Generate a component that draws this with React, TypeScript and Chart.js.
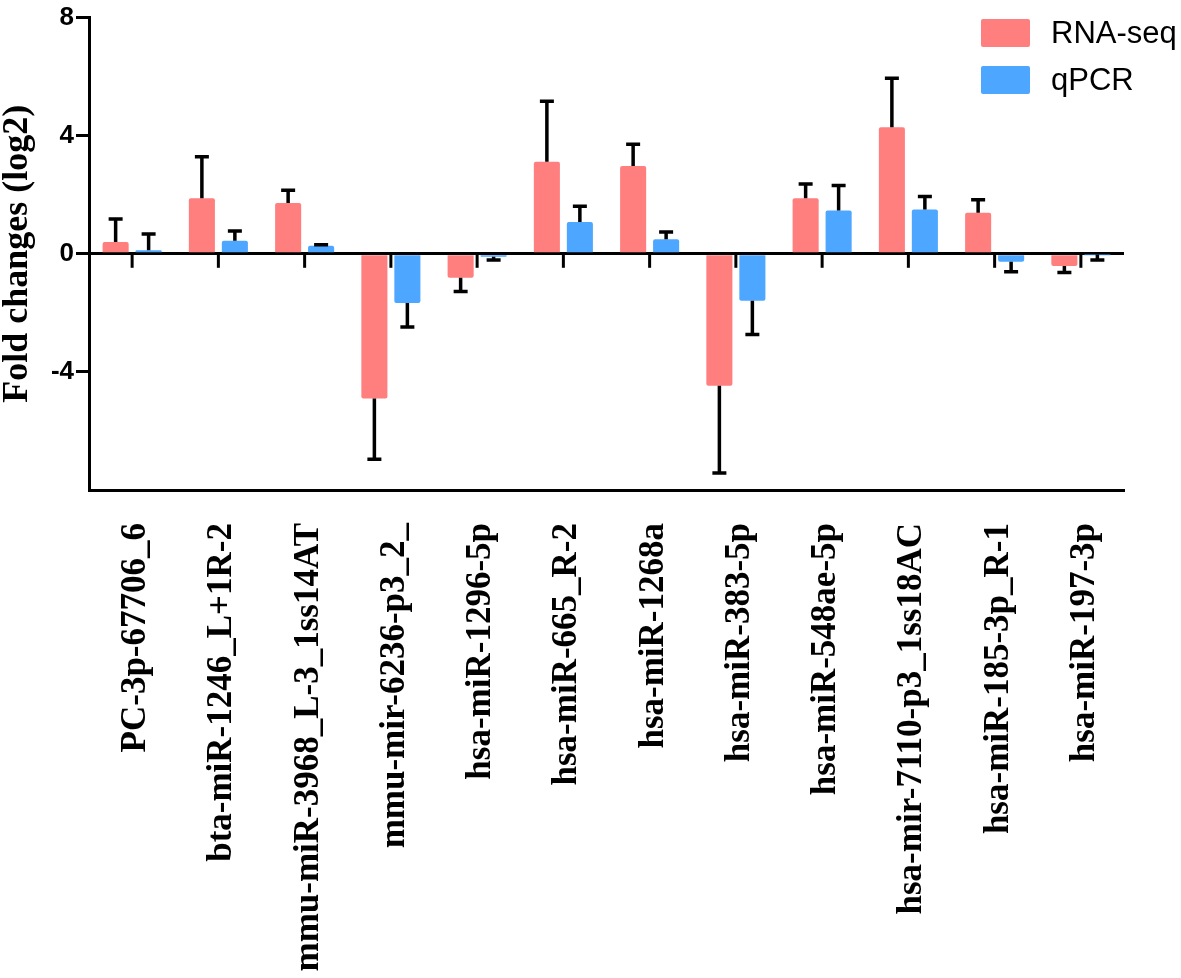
import React, { useEffect, useRef } from 'react';
import { Chart, registerables } from 'chart.js';

Chart.register(...registerables);

const categories = [
  'PC-3p-67706_6',
  'bta-miR-1246_L+1R-2',
  'mmu-miR-3968_L-3_1ss14AT',
  'mmu-mir-6236-p3_2_',
  'hsa-miR-1296-5p',
  'hsa-miR-665_R-2',
  'hsa-miR-1268a',
  'hsa-miR-383-5p',
  'hsa-miR-548ae-5p',
  'hsa-mir-7110-p3_1ss18AC',
  'hsa-miR-185-3p_R-1',
  'hsa-miR-197-3p',
];

const rnaSeq = [0.4, 1.88, 1.72, -4.9, -0.81, 3.12, 2.97, -4.47, 1.88, 4.29, 1.39, -0.41];
const rnaSeqErr = [0.78, 1.41, 0.43, 2.06, 0.47, 2.05, 0.74, 2.95, 0.48, 1.66, 0.44, 0.22];
const qpcr = [0.12, 0.44, 0.27, -1.67, -0.1, 1.08, 0.49, -1.59, 1.47, 1.5, -0.27, -0.02];
const qpcrErr = [0.55, 0.33, 0.04, 0.81, 0.11, 0.53, 0.25, 1.14, 0.84, 0.44, 0.34, 0.19];

const seriesNames = ['RNA-seq', 'qPCR'];
const seriesColors = ['#FF7F7F', '#4DA6FF'];
const yMin = -8;
const yMax = 8;
const yStep = 4;
const yTitle = 'Fold changes (log2)';

const errorBarPlugin = {
  id: 'errorBars',
  afterDatasetsDraw(chart: any) {
    const ctx = chart.ctx;
    const yScale = chart.scales.y;
    ctx.save();
    ctx.strokeStyle = '#000';
    ctx.lineWidth = 3.5;
    ctx.lineCap = 'butt';
    chart.data.datasets.forEach((ds: any, di: number) => {
      const meta = chart.getDatasetMeta(di);
      meta.data.forEach((el: any, i: number) => {
        const v = ds.data[i];
        const e = ds.errors[i];
        const sign = v < 0 ? -1 : 1;
        const y0 = yScale.getPixelForValue(v);
        const y1 = yScale.getPixelForValue(v + sign * e);
        ctx.beginPath();
        ctx.moveTo(el.x, y0);
        ctx.lineTo(el.x, y1);
        ctx.moveTo(el.x - 7, y1);
        ctx.lineTo(el.x + 7, y1);
        ctx.stroke();
      });
    });
    ctx.restore();
  },
};

const zeroTickPlugin = {
  id: 'zeroTicks',
  afterDraw(chart: any) {
    const ctx = chart.ctx;
    const xScale = chart.scales.x;
    const y0 = chart.scales.y.getPixelForValue(0);
    ctx.save();
    ctx.strokeStyle = '#000';
    ctx.lineWidth = 3;
    categories.forEach((_, i) => {
      const x = xScale.getPixelForValue(i);
      ctx.beginPath();
      ctx.moveTo(x, y0);
      ctx.lineTo(x, y0 + 14);
      ctx.stroke();
    });
    ctx.restore();
  },
};

const legendPlugin = {
  id: 'customLegend',
  afterDraw(chart: any) {
    const ctx = chart.ctx;
    ctx.save();
    ctx.font = '31px "Liberation Sans", Arial, sans-serif';
    ctx.textBaseline = 'middle';
    ctx.textAlign = 'left';
    chart.data.datasets.forEach((ds: any, i: number) => {
      const bx = 981;
      const by = 19 + i * 47;
      ctx.fillStyle = ds.backgroundColor;
      ctx.beginPath();
      (ctx as any).roundRect ? (ctx as any).roundRect(bx, by, 49, 28, 2) : ctx.rect(bx, by, 49, 28);
      ctx.fill();
      ctx.fillStyle = '#000';
      ctx.fillText(ds.label, 1051, by + 15);
    });
    ctx.restore();
  },
};

export default function App() {
  const canvasRef = useRef<HTMLCanvasElement | null>(null);

  useEffect(() => {
    if (!canvasRef.current) return;
    const chart = new Chart(canvasRef.current, {
      type: 'bar',
      data: {
        labels: categories,
        datasets: [
          {
            label: seriesNames[0],
            data: rnaSeq,
            errors: rnaSeqErr,
            backgroundColor: seriesColors[0],
            borderRadius: 2,
            borderSkipped: 'start',
            categoryPercentage: 0.765,
            barPercentage: 0.79,
          } as any,
          {
            label: seriesNames[1],
            data: qpcr,
            errors: qpcrErr,
            backgroundColor: seriesColors[1],
            borderRadius: 2,
            borderSkipped: 'start',
            categoryPercentage: 0.765,
            barPercentage: 0.79,
          } as any,
        ],
      },
      options: {
        responsive: false,
        animation: false,
        devicePixelRatio: 1,
        layout: { padding: { top: 14, right: 57, left: 0, bottom: 0 } },
        plugins: {
          legend: { display: false },
          tooltip: { enabled: false },
        },
        scales: {
          x: {
            grid: { display: false, drawTicks: false },
            border: { display: true, width: 3, color: '#000' },
            ticks: {
              autoSkip: false,
              minRotation: 90,
              maxRotation: 90,
              padding: 33,
              labelOffset: 4,
              color: '#000',
              font: { family: '"Liberation Serif", "Times New Roman", serif', size: 35, weight: 'bold' },
            },
            afterFit: (s: any) => {
              s.height = 488;
            },
          },
          y: {
            min: yMin,
            max: yMax,
            z: 1,
            ticks: {
              stepSize: yStep,
              padding: 2,
              color: '#000',
              font: { family: '"Liberation Sans", Arial, sans-serif', size: 26, weight: 'bold' },
              callback: (v: any) => (Number(v) === yMin ? '' : String(v)),
            },
            grid: {
              drawOnChartArea: true,
              drawTicks: true,
              tickLength: 13,
              lineWidth: 3,
              tickWidth: 3,
              color: (c: any) => (c.tick && c.tick.value === 0 ? '#000' : 'rgba(0,0,0,0)'),
              tickColor: (c: any) => (c.tick && c.tick.value === yMin ? 'rgba(0,0,0,0)' : '#000'),
            },
            border: { display: true, width: 3, color: '#000' },
            title: {
              display: true,
              text: yTitle,
              color: '#000',
              padding: { top: 0, bottom: 0 },
              font: { family: '"Liberation Serif", "Times New Roman", serif', size: 36, weight: 'bold', lineHeight: 1 },
            },
            afterFit: (s: any) => {
              s.width = 89;
            },
          },
        },
      } as any,
      plugins: [errorBarPlugin, zeroTickPlugin, legendPlugin],
    });
    return () => chart.destroy();
  }, []);

  return (
    <div style={{ position: 'absolute', left: 0, top: 0, width: 1181, height: 978, background: '#fff' }}>
      <canvas ref={canvasRef} width={1181} height={978} style={{ width: 1181, height: 978, display: 'block' }} />
    </div>
  );
}
